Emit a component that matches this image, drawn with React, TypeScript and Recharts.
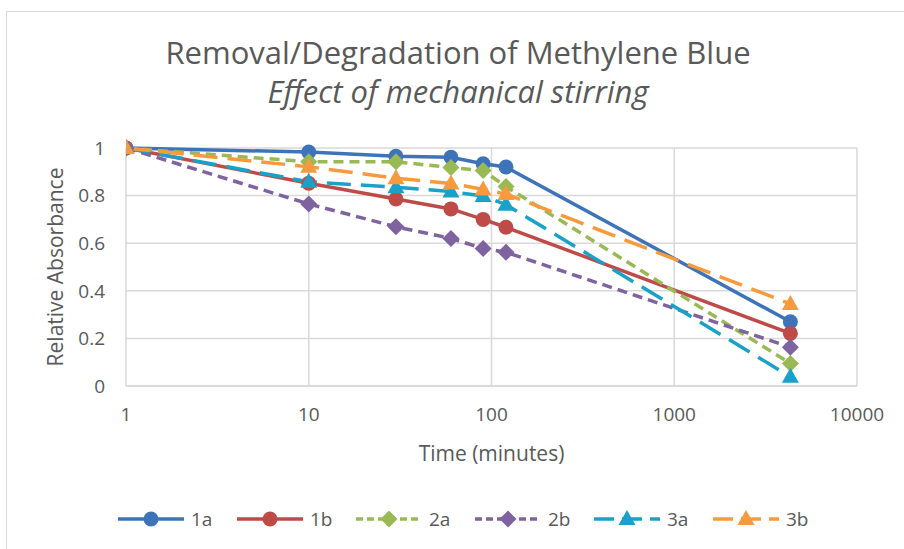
import React from "react";
import { CartesianGrid, Label, Line, LineChart, XAxis, YAxis } from "recharts";

// time points in minutes (last one = 72 h)
const TIMES = [1, 10, 30, 60, 90, 120, 4320];

const S1A = [1, 0.983, 0.965, 0.961, 0.934, 0.92, 0.27];
const S1B = [1, 0.852, 0.786, 0.744, 0.7, 0.667, 0.221];
const S2A = [1, 0.942, 0.942, 0.918, 0.905, 0.838, 0.095];
const S2B = [1, 0.765, 0.669, 0.62, 0.578, 0.562, 0.163];
const S3A = [1, 0.858, 0.835, 0.817, 0.798, 0.762, 0.039];
const S3B = [1, 0.921, 0.873, 0.851, 0.826, 0.807, 0.345];

const X_TICKS = [1, 10, 100, 1000, 10000];
const Y_TICKS = [0, 0.2, 0.4, 0.6, 0.8, 1];

const TITLE = "Removal/Degradation of Methylene Blue";
const SUBTITLE = "Effect of mechanical stirring";

type Shape = "circle" | "diamond" | "triangle";

const SERIES: { key: string; name: string; values: number[]; color: string; dash?: string; legendDash?: string; shape: Shape }[] = [
  { key: "s1a", name: "1a", values: S1A, color: "#3d74b9", shape: "circle" },
  { key: "s1b", name: "1b", values: S1B, color: "#be4b48", shape: "circle" },
  { key: "s2a", name: "2a", values: S2A, color: "#98b954", dash: "10 6", legendDash: "7 4", shape: "diamond" },
  { key: "s2b", name: "2b", values: S2B, color: "#7f63a1", dash: "10 6", legendDash: "7 4", shape: "diamond" },
  { key: "s3a", name: "3a", values: S3A, color: "#1aa1c9", dash: "24 10", legendDash: "20 8", shape: "triangle" },
  { key: "s3b", name: "3b", values: S3B, color: "#f79a3e", dash: "24 10", legendDash: "20 8", shape: "triangle" },
];

const data = TIMES.map((t, i) => {
  const row: Record<string, number> = { time: t };
  SERIES.forEach((s) => {
    row[s.key] = s.values[i];
  });
  return row;
});

const FONT = "'Open Sans', 'Noto Sans', sans-serif";
const TEXT = "#595959";
const GRID = "#d9d9d9";

function Marker({ shape, color, cx, cy }: { shape: Shape; color: string; cx: number; cy: number }) {
  if (shape === "circle") return <circle cx={cx} cy={cy} r={7.5} fill={color} />;
  if (shape === "diamond") {
    const r = 8.5;
    return <polygon points={`${cx},${cy - r} ${cx + r},${cy} ${cx},${cy + r} ${cx - r},${cy}`} fill={color} />;
  }
  return <polygon points={`${cx},${cy - 9} ${cx + 8.5},${cy + 6} ${cx - 8.5},${cy + 6}`} fill={color} />;
}

const dotFor = (shape: Shape, color: string) => (props: any) => (
  <Marker key={`${shape}-${color}-${props.index}`} shape={shape} color={color} cx={props.cx} cy={props.cy} />
);

export default function App() {
  return (
    <div style={{ position: "absolute", left: 0, top: 0, width: 904, height: 549, background: "#fff", fontFamily: FONT, overflow: "hidden" }}>
      <div style={{ position: "absolute", left: 6, top: 11, width: 920, height: 560, border: `1.5px solid ${GRID}` }} />
      <svg width={904} height={120} style={{ position: "absolute", left: 0, top: 0 }}>
        <text x={458} y={64} textAnchor="middle" fontSize={31} fill={TEXT} fontFamily={FONT}>
          {TITLE}
        </text>
        <text x={458} y={103} textAnchor="middle" fontSize={31} fontStyle="italic" fill={TEXT} fontFamily={FONT}>
          {SUBTITLE}
        </text>
      </svg>
      <div style={{ position: "absolute", left: 0, top: 0 }}>
        <LineChart width={904} height={549} data={data} margin={{ top: 148, right: 47, bottom: 103, left: 0 }}>
          <CartesianGrid stroke={GRID} strokeWidth={1.5} />
          <XAxis
            dataKey="time"
            type="number"
            scale="log"
            domain={[1, 10000]}
            ticks={X_TICKS}
            allowDataOverflow
            height={60}
            tickSize={0}
            tickMargin={22}
            axisLine={{ stroke: GRID, strokeWidth: 1.5 }}
            tick={{ fontSize: 19, fill: TEXT, fontFamily: FONT }}
          >
            <Label
              content={({ viewBox }: any) => (
                <text
                  x={viewBox.x + viewBox.width / 2}
                  y={viewBox.y + 67}
                  textAnchor="middle"
                  dominantBaseline="central"
                  fontSize={21}
                  fill={TEXT}
                  fontFamily={FONT}
                >
                  Time (minutes)
                </text>
              )}
            />
          </XAxis>
          <YAxis
            type="number"
            domain={[0, 1]}
            ticks={Y_TICKS}
            width={126}
            tickSize={0}
            tickMargin={21}
            axisLine={false}
            tick={{ fontSize: 19, fill: TEXT, fontFamily: FONT }}
          >
            <Label
              content={({ viewBox }: any) => {
                const cy = viewBox.y + viewBox.height / 2;
                return (
                  <text
                    x={55}
                    y={cy}
                    transform={`rotate(-90 55 ${cy})`}
                    textAnchor="middle"
                    dominantBaseline="central"
                    fontSize={21}
                    fill={TEXT}
                    fontFamily={FONT}
                  >
                    Relative Absorbance
                  </text>
                );
              }}
            />
          </YAxis>
          {SERIES.map((s) => (
            <Line
              key={s.key}
              dataKey={s.key}
              name={s.name}
              type="linear"
              stroke={s.color}
              strokeWidth={3.5}
              strokeDasharray={s.dash}
              dot={dotFor(s.shape, s.color)}
              activeDot={false}
              isAnimationActive={false}
            />
          ))}
        </LineChart>
      </div>
      {SERIES.map((s, i) => (
        <div key={s.key} style={{ position: "absolute", left: 118 + i * 119, top: 507, height: 24, display: "flex", alignItems: "center" }}>
          <svg width={66} height={24}>
            <line x1={0} y1={12} x2={66} y2={12} stroke={s.color} strokeWidth={3.5} strokeDasharray={s.legendDash} />
            <Marker shape={s.shape} color={s.color} cx={33} cy={12} />
          </svg>
          <span style={{ marginLeft: 7, fontSize: 19, color: TEXT }}>{s.name}</span>
        </div>
      ))}
    </div>
  );
}
